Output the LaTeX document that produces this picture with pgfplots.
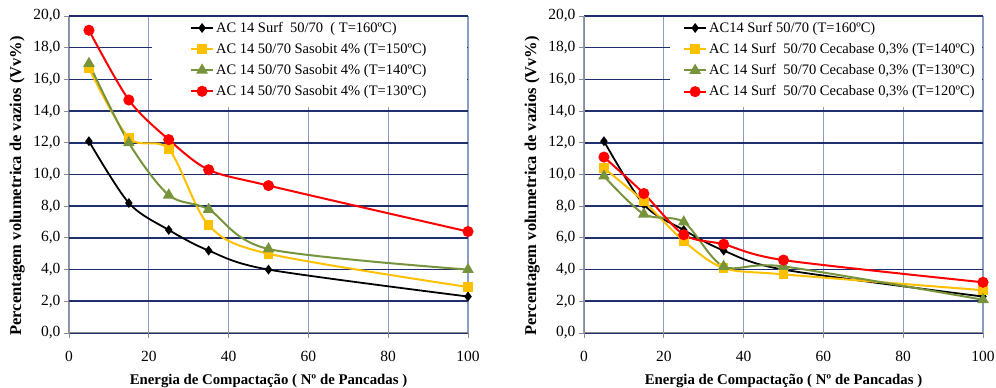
\documentclass[border=0pt]{standalone}
\usepackage{fontspec}
\setmainfont{Liberation Serif}
\usepackage{pgfplots}
\pgfplotsset{compat=1.18}
\definecolor{cgold}{HTML}{FFC000}
\definecolor{cgreen}{HTML}{77933C}
\definecolor{cred}{HTML}{FF0000}
\definecolor{hgrid}{HTML}{1F2F6E}
\definecolor{vgrid}{HTML}{8C9DC4}
\definecolor{axgray}{HTML}{8C8C8C}
\pgfplotsset{
 mystyle/.style={
  scale only axis, width=399pt, height=317pt,
  xmin=0,xmax=100,ymin=0,ymax=20,
  xtick={0,20,...,100}, ytick={0,2,...,20},
  axis lines*=left,
  axis line style={axgray, line width=1pt, -},
  xmajorgrids, ymajorgrids,
  x grid style={vgrid, line width=1.3pt},
  y grid style={hgrid, line width=1.6pt},
  tick align=outside, major tick length=5pt,
  tick style={axgray, line width=0.8pt},
  /pgf/number format/assume math mode=true,
  every tick label/.append style={font=\fontsize{15.5}{17}\selectfont},
  yticklabel style={/pgf/number format/fixed, /pgf/number format/fixed zerofill, /pgf/number format/precision=1, /pgf/number format/use comma},
  xticklabel style={yshift=-10pt},
  xlabel style={at={(axis description cs:0.5,-0.151)}, anchor=center, font=\bfseries\fontsize{14.8}{16}\selectfont},
  ylabel style={at={(axis description cs:-0.13,0.464)}, anchor=center, font=\bfseries\fontsize{16.5}{18}\selectfont},
  xlabel={Energia de Compactação ( Nº de Pancadas )},
  ylabel={Percentagem volumetrica de vazios (Vv\%)},
  legend cell align=left,
  legend image code/.code={\draw[mark repeat=2,mark phase=2] plot coordinates {(0pt,0pt)(11pt,0pt)(22pt,0pt)};},
  legend style={draw=none, fill=none, inner sep=0pt, row sep=5.5pt,
    font=\fontsize{14.5}{16}\selectfont,
    /tikz/every even column/.append style={column sep=0pt}},
 },
 sblack/.style={black, line width=1.8pt, smooth, mark=diamond*, mark size=3.5pt, mark options={solid}},
 sgold/.style={cgold, line width=2pt, smooth, mark=square*, mark size=3.8pt, mark options={solid}},
 sgreen/.style={cgreen, line width=2pt, smooth, mark=triangle*, mark size=4.8pt, mark options={solid}},
 sred/.style={cred, line width=2pt, smooth, mark=*, mark size=4.5pt, mark options={solid}},
}
\begin{document}
\begin{tikzpicture}
\path[use as bounding box] (0,0) rectangle (996pt,388pt);
\begin{axis}[mystyle, at={(69pt,55pt)}, anchor=south west,
  legend style={at={(axis cs:30.3,19.75)}, anchor=north west}]
\fill[white] (axis cs:20.8,19.92) rectangle (axis cs:99.8,14.26);
\addplot[sblack] coordinates {(5,12.1) (15,8.2) (25,6.5) (35,5.2) (50,4.0) (100,2.3)};
\addlegendentry{AC 14 Surf~ 50/70 ~( T=160ºC)}
\addplot[sgold] coordinates {(5,16.7) (15,12.3) (25,11.6) (35,6.8) (50,5.0) (100,2.9)};
\addlegendentry{AC 14 50/70 Sasobit 4\% (T=150ºC)}
\addplot[sgreen] coordinates {(5,17.0) (15,12.0) (25,8.7) (35,7.8) (50,5.3) (100,4.0)};
\addlegendentry{AC 14 50/70 Sasobit 4\% (T=140ºC)}
\addplot[sred] coordinates {(5,19.1) (15,14.7) (25,12.2) (35,10.3) (50,9.3) (100,6.4)};
\addlegendentry{AC 14 50/70 Sasobit 4\% (T=130ºC)}
\end{axis}
\begin{axis}[mystyle, at={(584pt,55pt)}, anchor=south west,
  legend style={at={(axis cs:24.8,19.75)}, anchor=north west}]
\fill[white] (axis cs:21.55,19.92) rectangle (axis cs:99.8,14.26);
\addplot[sblack] coordinates {(5,12.1) (15,8.1) (25,6.5) (35,5.2) (50,4.0) (100,2.3)};
\addlegendentry{AC14 Surf 50/70 (T=160ºC)}
\addplot[sgold] coordinates {(5,10.4) (15,8.3) (25,5.8) (35,4.1) (50,3.7) (100,2.7)};
\addlegendentry{AC 14 Surf~ 50/70 Cecabase 0,3\% (T=140ºC)}
\addplot[sgreen] coordinates {(5,9.9) (15,7.5) (25,7.0) (35,4.2) (50,4.2) (100,2.1)};
\addlegendentry{AC 14 Surf~ 50/70 Cecabase 0,3\% (T=130ºC)}
\addplot[sred] coordinates {(5,11.1) (15,8.8) (25,6.2) (35,5.6) (50,4.6) (100,3.2)};
\addlegendentry{AC 14 Surf~ 50/70 Cecabase 0,3\% (T=120ºC)}
\end{axis}
\end{tikzpicture}
\end{document}
